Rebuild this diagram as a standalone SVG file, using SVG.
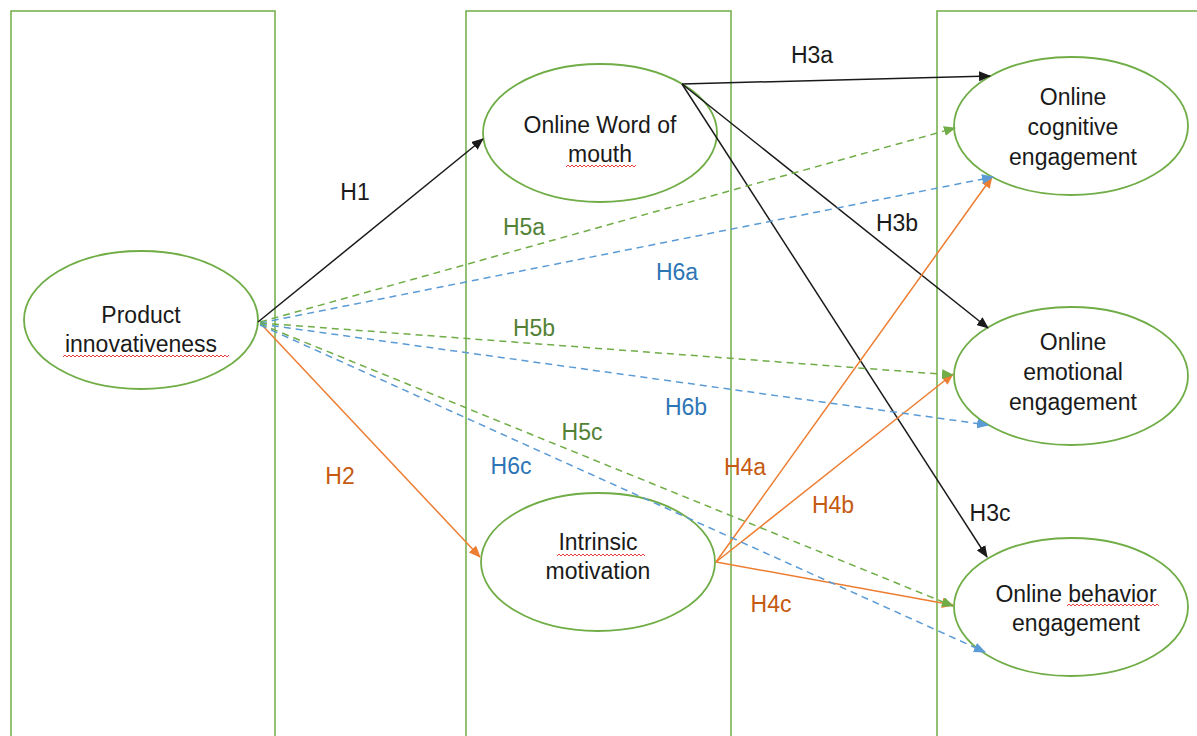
<svg xmlns="http://www.w3.org/2000/svg" width="1197" height="736" viewBox="0 0 1197 736">
<style>
.col{fill:none;stroke:#70AD47;stroke-width:1.5}
.node ellipse{fill:#fff;stroke:#70AD47;stroke-width:1.8}
.node text{font-family:"Liberation Sans",Arial,sans-serif;font-size:23px;fill:#1a1a1a;text-anchor:middle}
.sq{fill:none;stroke:#e84040;stroke-width:1}
.c{fill:none;stroke-width:1.5}
.k{stroke:#1a1a1a}
.o{stroke:#ED7D31}
.g{stroke:#70AD47;stroke-dasharray:7 5}
.b{stroke:#5B9BD5;stroke-dasharray:7 5}
.lbl{font-family:"Liberation Sans",Arial,sans-serif;font-size:23px;text-anchor:middle}
</style>
<defs>
<marker id="ak" markerWidth="12" markerHeight="10" refX="11" refY="5" orient="auto" markerUnits="userSpaceOnUse"><path d="M0,0 L12,5 L0,10 z" fill="#1a1a1a"/></marker>
<marker id="ao" markerWidth="12" markerHeight="10" refX="11" refY="5" orient="auto" markerUnits="userSpaceOnUse"><path d="M0,0 L12,5 L0,10 z" fill="#ED7D31"/></marker>
<marker id="ag" markerWidth="12" markerHeight="10" refX="11" refY="5" orient="auto" markerUnits="userSpaceOnUse"><path d="M0,0 L12,5 L0,10 z" fill="#70AD47"/></marker>
<marker id="ab" markerWidth="12" markerHeight="10" refX="11" refY="5" orient="auto" markerUnits="userSpaceOnUse"><path d="M0,0 L12,5 L0,10 z" fill="#5B9BD5"/></marker>
</defs>
<g id="columns">
<rect class="col" x="11" y="11" width="264" height="740"/>
<rect class="col" x="466" y="11" width="265" height="740"/>
<rect class="col" x="937" y="11" width="300" height="740"/>
</g>
<g id="n-product" class="node">
<ellipse cx="141" cy="320" rx="117" ry="69"/>
<text x="141" y="323">Product</text>
<text x="141" y="352">innovativeness</text>
<path class="sq" d="M63,357 l2,-2 l2,2 l2,-2 l2,2 l2,-2 l2,2 l2,-2 l2,2 l2,-2 l2,2 l2,-2 l2,2 l2,-2 l2,2 l2,-2 l2,2 l2,-2 l2,2 l2,-2 l2,2 l2,-2 l2,2 l2,-2 l2,2 l2,-2 l2,2 l2,-2 l2,2 l2,-2 l2,2 l2,-2 l2,2 l2,-2 l2,2 l2,-2 l2,2 l2,-2 l2,2 l2,-2 l2,2 l2,-2 l2,2 l2,-2 l2,2 l2,-2 l2,2 l2,-2 l2,2 l2,-2 l2,2 l2,-2 l2,2 l2,-2 l2,2 l2,-2 l2,2 l2,-2 l2,2 l2,-2 l2,2 l2,-2 l2,2 l2,-2 l2,2 l2,-2 l2,2 l2,-2 l2,2 l2,-2 l2,2 l2,-2 l2,2 l2,-2 l2,2 l2,-2 l2,2 l2,-2 l2,2 l2,-2 l2,2 l2,-2 l2,2 l2,-2"/>
</g>
<g id="n-wom" class="node">
<ellipse cx="600" cy="133" rx="117" ry="69"/>
<text x="600" y="133">Online Word of</text>
<text x="600" y="162">mouth</text>
<path class="sq" d="M566,167 l2,-2 l2,2 l2,-2 l2,2 l2,-2 l2,2 l2,-2 l2,2 l2,-2 l2,2 l2,-2 l2,2 l2,-2 l2,2 l2,-2 l2,2 l2,-2 l2,2 l2,-2 l2,2 l2,-2 l2,2 l2,-2 l2,2 l2,-2 l2,2 l2,-2 l2,2 l2,-2 l2,2 l2,-2 l2,2 l2,-2 l2,2 l2,-2"/>
</g>
<g id="n-intrinsic" class="node">
<ellipse cx="598" cy="562" rx="117" ry="69"/>
<text x="598" y="550">Intrinsic</text>
<text x="598" y="579">motivation</text>
<path class="sq" d="M557,556 l2,-2 l2,2 l2,-2 l2,2 l2,-2 l2,2 l2,-2 l2,2 l2,-2 l2,2 l2,-2 l2,2 l2,-2 l2,2 l2,-2 l2,2 l2,-2 l2,2 l2,-2 l2,2 l2,-2 l2,2 l2,-2 l2,2 l2,-2 l2,2 l2,-2 l2,2 l2,-2 l2,2 l2,-2 l2,2 l2,-2 l2,2 l2,-2 l2,2 l2,-2 l2,2 l2,-2 l2,2 l2,-2 l2,2 l2,-2 l2,2"/>
</g>
<g id="n-cognitive" class="node">
<ellipse cx="1071" cy="126" rx="117" ry="69"/>
<text x="1073" y="105">Online</text>
<text x="1073" y="135">cognitive</text>
<text x="1073" y="165">engagement</text>
</g>
<g id="n-emotional" class="node">
<ellipse cx="1071" cy="376" rx="117" ry="69"/>
<text x="1073" y="350">Online</text>
<text x="1073" y="380">emotional</text>
<text x="1073" y="410">engagement</text>
</g>
<g id="n-behavior" class="node">
<ellipse cx="1071" cy="607" rx="117" ry="69"/>
<text x="1076" y="602">Online behavior</text>
<text x="1076" y="631">engagement</text>
<path class="sq" d="M1067,606 l2,-2 l2,2 l2,-2 l2,2 l2,-2 l2,2 l2,-2 l2,2 l2,-2 l2,2 l2,-2 l2,2 l2,-2 l2,2 l2,-2 l2,2 l2,-2 l2,2 l2,-2 l2,2 l2,-2 l2,2 l2,-2 l2,2 l2,-2 l2,2 l2,-2 l2,2 l2,-2 l2,2 l2,-2 l2,2 l2,-2 l2,2 l2,-2 l2,2 l2,-2 l2,2 l2,-2 l2,2 l2,-2 l2,2 l2,-2 l2,2 l2,-2 l2,2"/>
</g>
<g id="connectors">
<line class="c k" x1="258" y1="322" x2="483" y2="139" marker-end="url(#ak)"/>
<line class="c o" x1="262" y1="325" x2="480" y2="557" marker-end="url(#ao)"/>
<line class="c k" x1="682" y1="84" x2="990" y2="76" marker-end="url(#ak)"/>
<line class="c k" x1="682" y1="84" x2="988" y2="328" marker-end="url(#ak)"/>
<line class="c k" x1="682" y1="84" x2="987" y2="557" marker-end="url(#ak)"/>
<line class="c o" x1="716" y1="562" x2="992" y2="177" marker-end="url(#ao)"/>
<line class="c o" x1="716" y1="562" x2="953" y2="374" marker-end="url(#ao)"/>
<line class="c o" x1="716" y1="562" x2="953" y2="605" marker-end="url(#ao)"/>
<line class="c g" x1="260" y1="322" x2="955" y2="128" marker-end="url(#ag)"/>
<line class="c b" x1="260" y1="323" x2="993" y2="177" marker-end="url(#ab)"/>
<line class="c g" x1="260" y1="323" x2="953" y2="375" marker-end="url(#ag)"/>
<line class="c b" x1="260" y1="324" x2="988" y2="425" marker-end="url(#ab)"/>
<line class="c g" x1="260" y1="324" x2="953" y2="606" marker-end="url(#ag)"/>
<line class="c b" x1="260" y1="325" x2="985" y2="652" marker-end="url(#ab)"/>
</g>
<g id="labels">
<text class="lbl" x="355" y="200" fill="#1a1a1a">H1</text>
<text class="lbl" x="340" y="484" fill="#C55A11">H2</text>
<text class="lbl" x="812" y="63" fill="#1a1a1a">H3a</text>
<text class="lbl" x="897" y="231" fill="#1a1a1a">H3b</text>
<text class="lbl" x="990" y="521" fill="#1a1a1a">H3c</text>
<text class="lbl" x="745" y="475" fill="#C55A11">H4a</text>
<text class="lbl" x="833" y="513" fill="#C55A11">H4b</text>
<text class="lbl" x="771" y="612" fill="#C55A11">H4c</text>
<text class="lbl" x="524" y="235" fill="#538135">H5a</text>
<text class="lbl" x="534" y="336" fill="#538135">H5b</text>
<text class="lbl" x="582" y="440" fill="#538135">H5c</text>
<text class="lbl" x="677" y="280" fill="#2E75B6">H6a</text>
<text class="lbl" x="686" y="415" fill="#2E75B6">H6b</text>
<text class="lbl" x="511" y="474" fill="#2E75B6">H6c</text>
</g>
</svg>
